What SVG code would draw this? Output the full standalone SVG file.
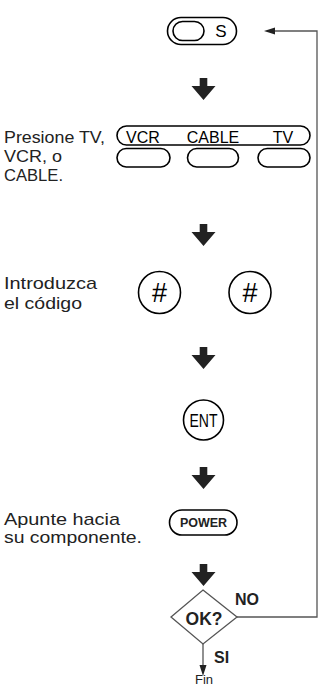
<svg xmlns="http://www.w3.org/2000/svg" width="325" height="688" viewBox="0 0 325 688">
<defs>
<style>
.ln{fill:none;stroke:#000;stroke-width:1.6}
.gl{fill:none;stroke:#555;stroke-width:1.3}
.lbl{font-family:"Liberation Sans",Arial,sans-serif;font-size:17px;fill:#222}
.key{font-family:"Liberation Sans",Arial,sans-serif;font-size:16px;fill:#000;text-anchor:middle}
.bold{font-family:"Liberation Sans",Arial,sans-serif;font-weight:bold;fill:#222}
</style>
<path id="blk" d="M-3.8,0 H3.8 V8 H12 L0,22 L-12,8 H-3.8 Z" fill="#222"/>
</defs>
<rect width="325" height="688" fill="#fff"/>
<g id="connectors">
<use href="#blk" x="203.5" y="78"/>
<use href="#blk" x="203.5" y="224"/>
<use href="#blk" x="203.5" y="347"/>
<use href="#blk" x="203.5" y="467"/>
<use href="#blk" x="203.5" y="564"/>
<polyline class="gl" points="237,617 317,617 317,31 274,31"/>
<path d="M264,31 L275,27.5 L275,34.5 Z" fill="#222"/>
<line class="gl" x1="203" y1="644" x2="203" y2="668"/>
<path d="M203,676 L199.5,665 L206.5,665 Z" fill="#222"/>
</g>
<g id="node-s">
<rect class="ln" x="167.5" y="17.5" width="69" height="27" rx="13.5"/>
<rect class="ln" x="173" y="21.5" width="31" height="19" rx="9.5" stroke-width="2"/>
<text class="key" x="221" y="37" style="font-size:17px">S</text>
</g>
<g id="node-select">
<text class="lbl" x="4" y="143" textLength="101" lengthAdjust="spacingAndGlyphs">Presione TV,</text>
<text class="lbl" x="4" y="162" textLength="58" lengthAdjust="spacingAndGlyphs">VCR, o</text>
<text class="lbl" x="4" y="181" textLength="59" lengthAdjust="spacingAndGlyphs">CABLE.</text>
<rect class="ln" x="117" y="126" width="193" height="19" rx="9.5" stroke-width="1.2"/>
<text class="key" x="143" y="142.5">VCR</text>
<text class="key" x="213" y="142.5">CABLE</text>
<text class="key" x="283" y="142.5">TV</text>
<rect class="ln" x="117" y="148.5" width="53" height="18.5" rx="9.25" stroke-width="2"/>
<rect class="ln" x="187.5" y="148.5" width="51" height="18.5" rx="9.25" stroke-width="2"/>
<rect class="ln" x="258" y="148.5" width="52" height="18.5" rx="9.25" stroke-width="2"/>
</g>
<g id="node-code">
<text class="lbl" x="4" y="289" textLength="93" lengthAdjust="spacingAndGlyphs">Introduzca</text>
<text class="lbl" x="4" y="309" textLength="78" lengthAdjust="spacingAndGlyphs">el código</text>
<circle class="ln" cx="159.5" cy="292.5" r="21"/>
<circle class="ln" cx="250" cy="292.5" r="21"/>
<text class="key" x="159.5" y="302" style="font-size:27px">#</text>
<text class="key" x="250" y="302" style="font-size:27px">#</text>
</g>
<g id="node-ent">
<circle class="ln" cx="203.5" cy="420" r="20"/>
<text class="key" x="203.5" y="426.5" style="font-size:17.5px" textLength="28" lengthAdjust="spacingAndGlyphs">ENT</text>
</g>
<g id="node-power">
<text class="lbl" x="4" y="525" textLength="116" lengthAdjust="spacingAndGlyphs">Apunte hacia</text>
<text class="lbl" x="4" y="543" textLength="138" lengthAdjust="spacingAndGlyphs">su componente.</text>
<rect class="ln" x="169.5" y="510" width="67.5" height="25" rx="12.5" stroke-width="2"/>
<text class="bold" x="203.5" y="527" font-size="12.5" text-anchor="middle">POWER</text>
</g>
<g id="node-ok">
<polygon class="gl" points="203,590 237,617 203,644 171,617"/>
<text class="bold" x="204" y="624.5" font-size="17.5" text-anchor="middle">OK?</text>
<text class="bold" x="235" y="605" font-size="16">NO</text>
<text class="bold" x="214" y="663" font-size="16">SI</text>
<text class="lbl" x="195" y="684" style="font-size:13px">Fin</text>
</g>
</svg>
